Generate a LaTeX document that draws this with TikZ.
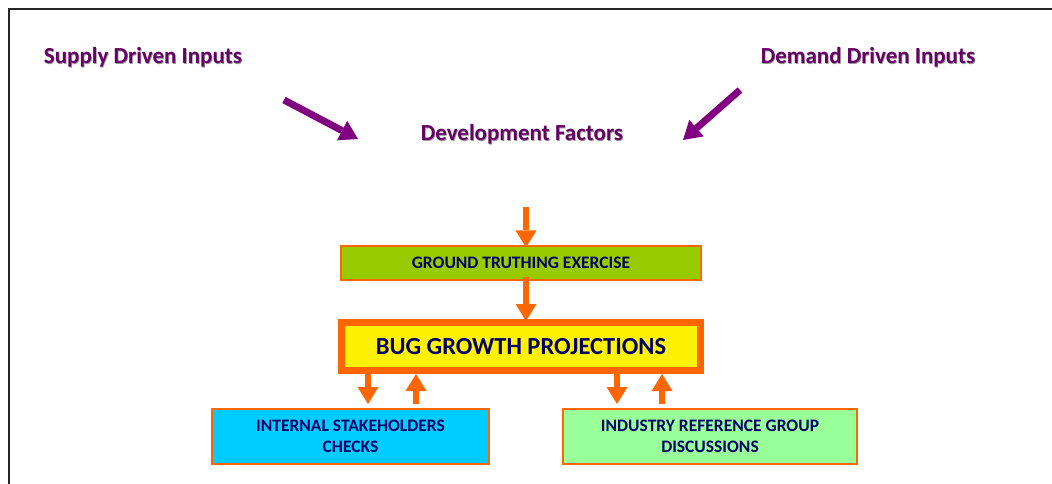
\documentclass[tikz,border=0pt]{standalone}
\usepackage{fontspec}
\setmainfont{Carlito}
\usetikzlibrary{arrows.meta}
\definecolor{plum}{HTML}{660066}
\definecolor{arrowplum}{HTML}{800080}
\definecolor{flow}{HTML}{FF6600}
\definecolor{navyink}{HTML}{000066}
\definecolor{olivefill}{HTML}{99CC00}
\definecolor{skyfill}{HTML}{00CCFF}
\definecolor{mintfill}{HTML}{99FF99}
% heading text with a soft drop shadow
\newcommand\shadetext[1]{\makebox[0pt][l]{\raisebox{-0.7pt}{\hspace{0.7pt}\textcolor{black!40}{#1}}}#1}
\tikzset{
  heading/.style={text=plum, font=\fontsize{23}{27}\selectfont\bfseries, inner sep=0pt},
  stagebox/.style={draw=flow, line width=1.2pt, text=navyink, inner sep=0pt,
    font=\fontsize{17.5}{21}\selectfont\bfseries, align=center},
  feedarrow/.style={draw=flow, fill=flow, line width=6pt,
    -{Triangle[width=21pt,length=17pt,line width=0pt]}},
  inarrow/.style={draw=arrowplum, fill=arrowplum, line width=7pt,
    -{Triangle[width=22pt,length=18pt,line width=0pt]}}
}
\begin{document}
\begin{tikzpicture}[x=1pt,y=-1pt]
  \useasboundingbox (0,0) rectangle (1052,484);
  \fill[white] (0,0) rectangle (1052,484);
  % frame
  \draw[line width=2pt, black!85] (9,484) -- (9,9) -- (1052,9);

  % headings
  \node[heading] (supply) at (143,58) {\shadetext{Supply Driven Inputs}};
  \node[heading] (demand) at (868,58) {\shadetext{Demand Driven Inputs}};
  \node[heading] (factors) at (522,135) {\shadetext{Development Factors}};

  \coordinate (supplytail) at (284,100);
  \coordinate (supplytip) at (358,139);
  \coordinate (demandtail) at (740,90);
  \coordinate (demandtip) at (683,140);
  \draw[inarrow] (supplytail) -- (supplytip);
  \draw[inarrow] (demandtail) -- (demandtip);

  % boxes
  \node[stagebox, fill=olivefill, minimum width=360pt, minimum height=34pt]
    (ground) at (521,263) {GROUND TRUTHING EXERCISE};
  \node[draw=flow, line width=7pt, fill=yellow, text=navyink, inner sep=0pt,
    minimum width=359pt, minimum height=48pt,
    font=\fontsize{24.5}{28}\selectfont\bfseries]
    (bug) at (521,346.5) {BUG GROWTH PROJECTIONS};
  \node[stagebox, fill=skyfill, minimum width=277pt, minimum height=55pt]
    (internal) at (350.5,436.5) {INTERNAL STAKEHOLDERS\\CHECKS};
  \node[stagebox, fill=mintfill, minimum width=294pt, minimum height=55pt]
    (industry) at (710,436.5) {INDUSTRY REFERENCE GROUP\\DISCUSSIONS};

  % arrow anchor points
  \coordinate (feedtop) at (526,207);
  \coordinate (intdownA) at (368,374);
  \coordinate (intdownB) at (368,404);
  \coordinate (intupA) at (416,404);
  \coordinate (intupB) at (416,374);
  \coordinate (inddownA) at (617,374);
  \coordinate (inddownB) at (617,404);
  \coordinate (indupA) at (662,404);
  \coordinate (indupB) at (662,374);

  % flow arrows
  \draw[feedarrow] (feedtop) -- ([yshift=-2pt]feedtop |- ground.north);
  \draw[feedarrow] ([yshift=4pt]feedtop |- ground.south) -- ([yshift=-2pt]feedtop |- bug.north);
  \draw[feedarrow] (intdownA) -- (intdownB);
  \draw[feedarrow] (intupA) -- (intupB);
  \draw[feedarrow] (inddownA) -- (inddownB);
  \draw[feedarrow] (indupA) -- (indupB);
\end{tikzpicture}
\end{document}
